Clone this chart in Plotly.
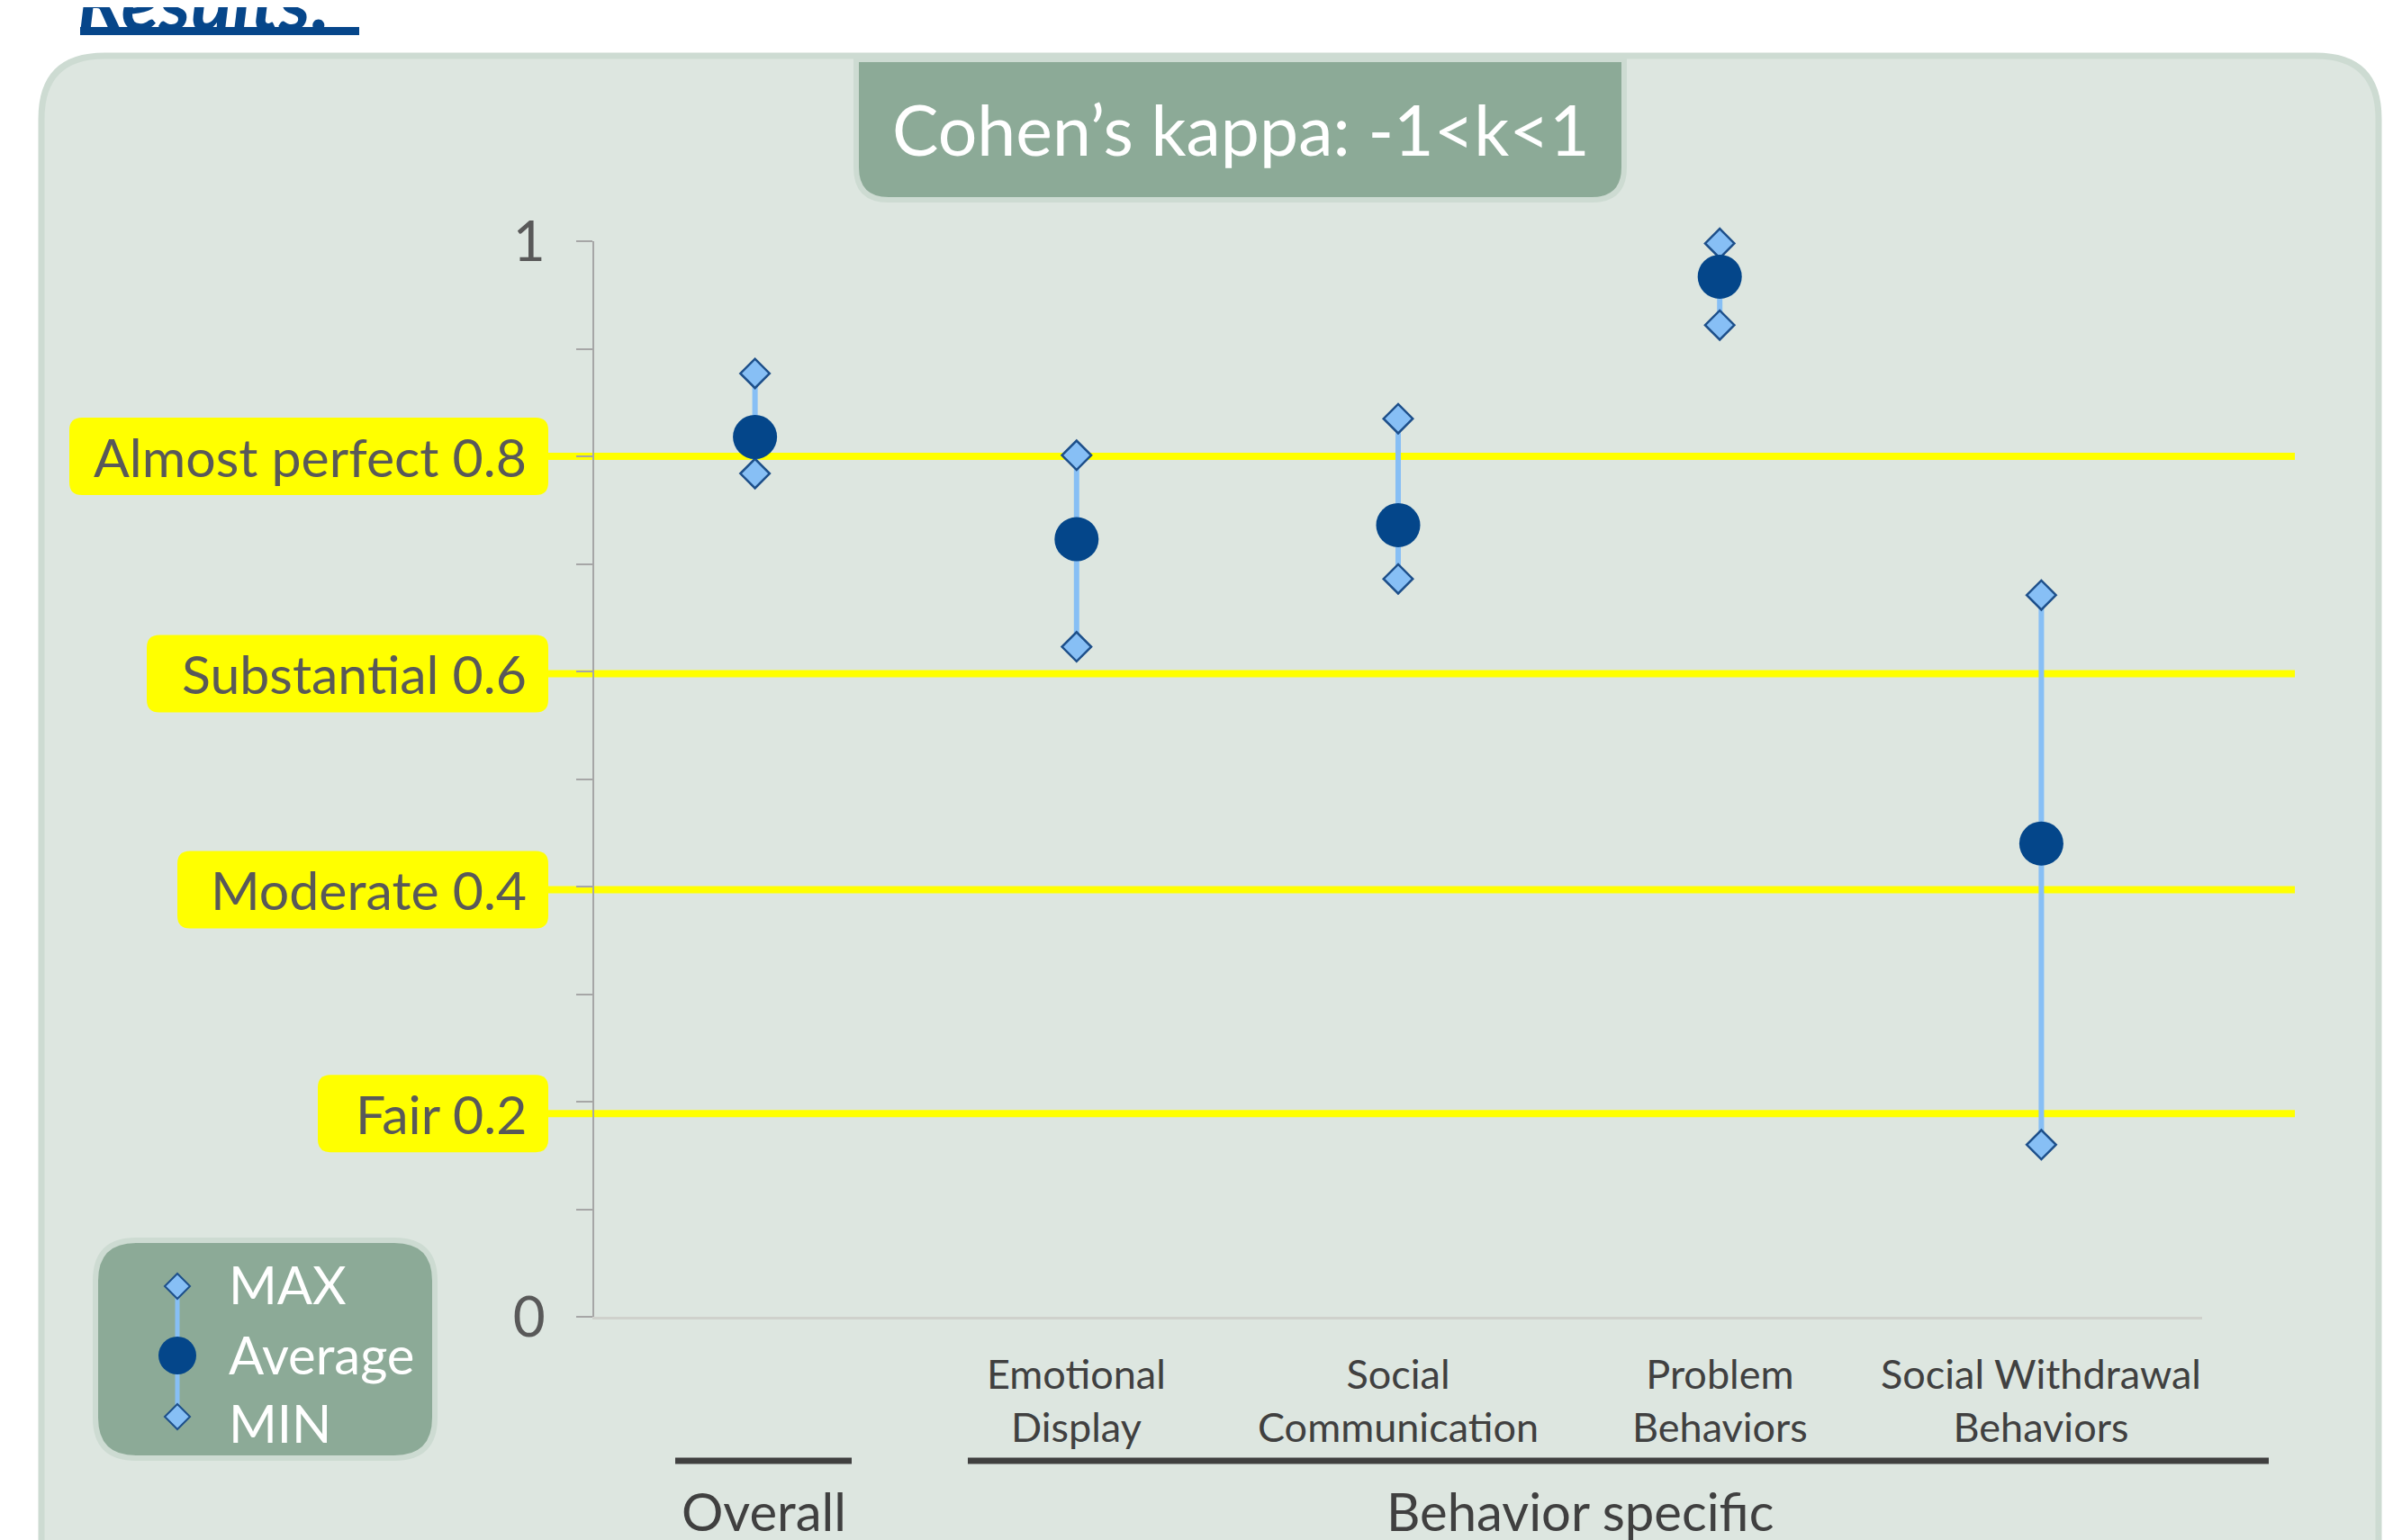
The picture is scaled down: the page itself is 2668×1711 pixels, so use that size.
import plotly.graph_objects as go

W, H = 2668, 1711        # browser window
OFF = 8                  # default body margin of the page
FW, FH = W - OFF, H - OFF  # figure size so that it fits the window exactly

# ---------------- data ----------------
categories = ["Overall", "Emotional Display", "Social Communication",
              "Problem Behaviors", "Social Withdrawal Behaviors"]
tick_labels = ["", "Emotional<br>Display", "Social<br>Communication",
               "Problem<br>Behaviors", "Social Withdrawal<br>Behaviors"]
kappa_max = [0.877, 0.801, 0.835, 0.998, 0.671]
kappa_avg = [0.818, 0.723, 0.736, 0.967, 0.440]
kappa_min = [0.784, 0.623, 0.686, 0.922, 0.160]

threshold_names = ["Almost perfect 0.8", "Substantial 0.6", "Moderate 0.4", "Fair 0.2"]
threshold_lines = [0.8, 0.598, 0.397, 0.189]

y_tickvals = [0, 0.1, 0.2, 0.3, 0.4, 0.5, 0.6, 0.7, 0.8, 0.9, 1.0]
y_ticktext = ["0", "", "", "", "", "", "", "", "", "", "1"]

group_names = ["Overall", "Behavior specific"]
title_text = "Cohen’s kappa: -1<k<1"
legend_names = ["MAX", "Average", "MIN"]

# ---------------- style ----------------
FONT = "Lato"
C_DIAMOND = "#87bff5"
C_DIAMOND_LINE = "#1d4f8a"
C_AVG = "#04468a"
C_GREEN = "#8caa97"
C_GREEN_BORDER = "#cddbd2"
C_PANEL = "#dde6e0"
C_YELLOW = "#ffff00"
C_TEXT = "#404040"
C_TEXT2 = "#595959"


def PX(x):
    return (x - OFF) / FW


def PY(y):
    return 1 - (y - OFF) / FH


def rrect(x0, y0, x1, y1, rtl, rtr, rbr, rbl):
    def p(x, y):
        return f"{PX(x):.6f},{PY(y):.6f}"
    s = f"M {p(x0 + rtl, y0)} L {p(x1 - rtr, y0)} Q {p(x1, y0)} {p(x1, y0 + rtr)} "
    s += f"L {p(x1, y1 - rbr)} Q {p(x1, y1)} {p(x1 - rbr, y1)} "
    s += f"L {p(x0 + rbl, y1)} Q {p(x0, y1)} {p(x0, y1 - rbl)} "
    s += f"L {p(x0, y0 + rtl)} Q {p(x0, y0)} {p(x0 + rtl, y0)} Z"
    return s


fig = go.Figure()

# whiskers
wx, wy = [], []
for c, lo, hi in zip(categories, kappa_min, kappa_max):
    wx += [c, c, None]
    wy += [lo, hi, None]
fig.add_trace(go.Scatter(x=wx, y=wy, mode="lines",
                         line=dict(color=C_DIAMOND, width=6),
                         hoverinfo="skip", showlegend=False, cliponaxis=False))
fig.add_trace(go.Scatter(x=categories, y=kappa_max, mode="markers", name="MAX",
                         marker=dict(symbol="diamond", size=25, color=C_DIAMOND,
                                     line=dict(color=C_DIAMOND_LINE, width=2.5)),
                         showlegend=False, cliponaxis=False))
fig.add_trace(go.Scatter(x=categories, y=kappa_min, mode="markers", name="MIN",
                         marker=dict(symbol="diamond", size=25, color=C_DIAMOND,
                                     line=dict(color=C_DIAMOND_LINE, width=2.5)),
                         showlegend=False, cliponaxis=False))
fig.add_trace(go.Scatter(x=categories, y=kappa_avg, mode="markers", name="Average",
                         marker=dict(symbol="circle", size=49, color=C_AVG,
                                     line=dict(width=0)),
                         showlegend=False, cliponaxis=False))

shapes = []
annotations = []

# outer panel
shapes.append(dict(type="path", xref="paper", yref="paper", layer="below",
                   path=rrect(46, 62, 2642, 1800, 70, 70, 70, 70),
                   fillcolor=C_PANEL, line=dict(color=C_GREEN_BORDER, width=7)))

# threshold lines
box_left = [77, 163, 197, 353]
box_right = 609
for name, v in zip(threshold_names, threshold_lines):
    shapes.append(dict(type="line", xref="paper", yref="y", layer="below",
                       x0=PX(box_right), x1=PX(2549), y0=v, y1=v,
                       line=dict(color=C_YELLOW, width=8)))
for name, v, bl in zip(threshold_names, threshold_lines, box_left):
    w = box_right - bl
    r = 14
    h = 43
    path = (f"M {-w + r},{h} L {-r},{h} Q 0,{h} 0,{h - r} L 0,{-h + r} Q 0,{-h} {-r},{-h} "
            f"L {-w + r},{-h} Q {-w},{-h} {-w},{-h + r} L {-w},{h - r} Q {-w},{h} {-w + r},{h} Z")
    shapes.append(dict(type="path", xref="paper", yref="y", layer="above",
                       xsizemode="pixel", ysizemode="pixel",
                       xanchor=PX(box_right), yanchor=v, path=path,
                       fillcolor=C_YELLOW, line=dict(width=0)))
    annotations.append(dict(xref="paper", yref="y", x=PX(box_right - 22), y=v,
                            xanchor="right", yanchor="middle", showarrow=False,
                            text=name, font=dict(family=FONT, size=59, color=C_TEXT2)))

# title box
shapes.append(dict(type="path", xref="paper", yref="paper", layer="above",
                   path=rrect(951, 66, 1804, 222, 0, 0, 36, 36),
                   fillcolor=C_GREEN, line=dict(color=C_GREEN_BORDER, width=6)))
annotations.append(dict(xref="paper", yref="paper", x=PX(1378), y=PY(143),
                        xanchor="center", yanchor="middle", showarrow=False,
                        text=title_text, font=dict(family=FONT, size=77, color="white")))

# legend box
shapes.append(dict(type="path", xref="paper", yref="paper", layer="above",
                   path=rrect(106, 1378, 483, 1620, 45, 45, 45, 45),
                   fillcolor=C_GREEN, line=dict(color=C_GREEN_BORDER, width=6)))
lx = 197
shapes.append(dict(type="line", xref="paper", yref="paper", layer="above",
                   x0=PX(lx), x1=PX(lx), y0=PY(1429), y1=PY(1574),
                   line=dict(color=C_DIAMOND, width=5)))
for ly in [1429, 1574]:
    d = 14
    shapes.append(dict(type="path", xref="paper", yref="paper", layer="above",
                       path=(f"M {PX(lx)},{PY(ly - d)} L {PX(lx + d)},{PY(ly)} "
                             f"L {PX(lx)},{PY(ly + d)} L {PX(lx - d)},{PY(ly)} Z"),
                       fillcolor=C_DIAMOND, line=dict(color=C_DIAMOND_LINE, width=2)))
shapes.append(dict(type="circle", xref="paper", yref="paper", layer="above",
                   x0=PX(lx - 21), x1=PX(lx + 21), y0=PY(1506 - 21), y1=PY(1506 + 21),
                   fillcolor=C_AVG, line=dict(width=0)))
for name, ly in zip(legend_names, [1426, 1504, 1580]):
    annotations.append(dict(xref="paper", yref="paper", x=PX(252), y=PY(ly),
                            xanchor="left", yanchor="middle", showarrow=False,
                            text=name, font=dict(family=FONT, size=58, color="white")))

# category labels
for c, t in zip(categories, tick_labels):
    if t:
        annotations.append(dict(xref="x", yref="paper", x=c, y=PY(1555),
                                xanchor="center", yanchor="middle", showarrow=False,
                                text=t, font=dict(family=FONT, size=45, color=C_TEXT)))

# group brackets
group_lines = [(750, 946), (1075, 2520)]
group_text_x = [848, 1755]
for g, (a, b), tx in zip(group_names, group_lines, group_text_x):
    shapes.append(dict(type="line", xref="paper", yref="paper", layer="above",
                       x0=PX(a), x1=PX(b), y0=PY(1623), y1=PY(1623),
                       line=dict(color=C_TEXT, width=7)))
    annotations.append(dict(xref="paper", yref="paper", x=PX(tx), y=PY(1678),
                            xanchor="center", yanchor="middle", showarrow=False,
                            text=g, font=dict(family=FONT, size=58, color=C_TEXT)))

# header "Results:" (mostly above the visible area, as in the reference)
shapes.append(dict(type="rect", xref="paper", yref="paper", layer="above",
                   x0=PX(89), x1=PX(399), y0=PY(30), y1=PY(39),
                   fillcolor="#06468a", line=dict(width=0)))
annotations.append(dict(xref="paper", yref="paper", x=PX(84), y=PY(54),
                        xanchor="left", yanchor="bottom", showarrow=False,
                        text="<b><i>Results:</i></b>",
                        font=dict(family=FONT, size=86, color="#06468a")))

fig.update_layout(
    template="none",
    width=FW, height=FH,
    margin=dict(l=0, r=0, t=0, b=0, pad=0, autoexpand=False),
    paper_bgcolor="white",
    plot_bgcolor="rgba(0,0,0,0)",
    shapes=shapes,
    annotations=annotations,
    showlegend=False,
    xaxis=dict(domain=[PX(660), PX(2446)], type="category",
               categoryorder="array", categoryarray=categories,
               range=[-0.5, 4.5], showgrid=False, zeroline=False, automargin=False,
               showline=True, linecolor="#cfd1cc", linewidth=3,
               showticklabels=False, ticks=""),
    yaxis=dict(domain=[PY(1463), PY(268)], range=[0, 1], automargin=False,
               showgrid=False, zeroline=False,
               showline=True, linecolor="#a6a6a6", linewidth=2,
               ticks="outside", ticklen=18, tickwidth=2, tickcolor="#a6a6a6",
               tickvals=y_tickvals, ticktext=y_ticktext, ticklabelstandoff=22,
               tickfont=dict(family=FONT, size=62, color=C_TEXT2)),
)

fig.write_html("out.html")
